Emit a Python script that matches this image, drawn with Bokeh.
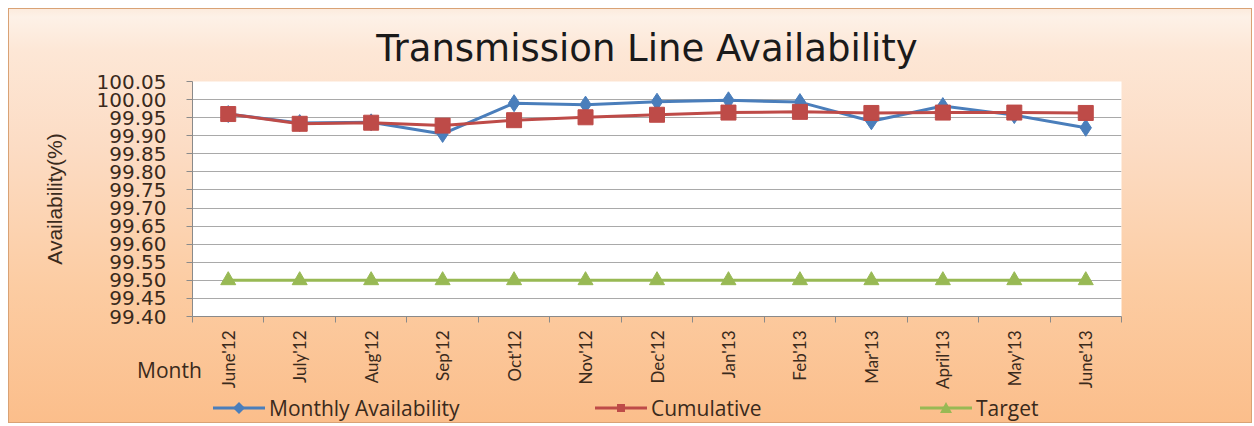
import math
from bokeh.plotting import figure
from bokeh.models import (FixedTicker, NumeralTickFormatter, Range1d, ColumnDataSource, Div)
from bokeh.layouts import column
from bokeh.embed import file_html
from bokeh.resources import INLINE

# ---------------- data ----------------
months = ["June'12", "July'12", "Aug'12", "Sep'12", "Oct'12", "Nov'12", "Dec'12",
          "Jan'13", "Feb'13", "Mar'13", "April'13", "May'13", "June'13"]
monthly = [99.960, 99.935, 99.937, 99.905, 99.990, 99.986, 99.994,
           99.998, 99.993, 99.940, 99.982, 99.957, 99.922]
cumulative = [99.960, 99.933, 99.936, 99.928, 99.943, 99.951, 99.958,
              99.964, 99.966, 99.963, 99.964, 99.964, 99.963]
target = [99.50, 99.50, 99.50, 99.50, 99.50, 99.50, 99.50,
          99.50, 99.50, 99.50, 99.50, 99.50, 99.50]
y_ticks = [99.40, 99.45, 99.50, 99.55, 99.60, 99.65, 99.70,
           99.75, 99.80, 99.85, 99.90, 99.95, 100.00, 100.05]
series_names = ["Monthly Availability", "Cumulative", "Target"]
title_text = "Transmission Line Availability"
y_title = "Availability(%)"
x_title = "Month"

# ---------------- styles ----------------
BLUE = "#4A7EBB"
RED = "#BE4B48"
GREEN = "#98B954"
TXT = "#3A2A1C"

xs = list(range(len(months)))
src = ColumnDataSource(dict(x=xs, monthly=monthly, cumulative=cumulative, target=target))

p = figure(width=1252, height=423,
           x_range=Range1d(-0.5, len(months) - 0.5),
           y_range=Range1d(y_ticks[0], y_ticks[-1]),
           output_backend="svg", toolbar_location=None,
           min_border_left=192, min_border_right=131,
           min_border_top=81, min_border_bottom=107)

p.styles = {
    "background": "linear-gradient(180deg, #fbe4d2 0%, #fdf1e7 4%, #fde7d6 12%, "
                  "#fcdcc4 35%, #fccca2 68%, #fbbe8b 100%)",
    "box-shadow": "inset 8px 8px 0 0 #ffffff, inset 9px 9px 0 0 #d9a275, "
                  "inset -1px -1px 0 0 #d9a275",
}
p.border_fill_alpha = 0
p.background_fill_color = "white"
p.outline_line_color = None

# y axis
p.yaxis.ticker = FixedTicker(ticks=y_ticks)
p.yaxis.formatter = NumeralTickFormatter(format="0.00")
p.yaxis.major_label_text_font = "DejaVu Sans"
p.yaxis.major_label_text_font_size = "20px"
p.yaxis.major_label_text_color = TXT
p.yaxis.major_label_standoff = 20
p.yaxis.major_tick_out = 6
p.yaxis.major_tick_in = 0
p.yaxis.minor_tick_out = 0
p.yaxis.minor_tick_in = 0
p.yaxis.major_tick_line_color = "#8a8a8a"
p.yaxis.axis_line_color = "#8a8a8a"
p.yaxis.axis_label = y_title
p.yaxis.axis_label_text_font = "Liberation Sans"
p.yaxis.axis_label_text_font_size = "21px"
p.yaxis.axis_label_text_font_style = "normal"
p.yaxis.axis_label_text_color = TXT
p.yaxis.axis_label_standoff = 28

# x axis
p.xaxis.ticker = FixedTicker(ticks=xs, minor_ticks=[i - 0.5 for i in range(len(months) + 1)])
p.xaxis.major_label_overrides = {i: m for i, m in enumerate(months)}
p.xaxis.major_label_orientation = math.pi / 2
p.xaxis.major_label_text_font = "Lato"
p.xaxis.major_label_text_font_size = "17px"
p.xaxis.major_label_text_color = TXT
p.xaxis.major_label_standoff = 8
p.xaxis.major_tick_out = 0
p.xaxis.major_tick_in = 0
p.xaxis.minor_tick_out = 6
p.xaxis.minor_tick_in = 0
p.xaxis.minor_tick_line_color = "#8a8a8a"
p.xaxis.axis_line_color = "#8a8a8a"

# grid
p.xgrid.grid_line_color = None
p.ygrid.ticker = FixedTicker(ticks=y_ticks)
p.ygrid.grid_line_color = "#a9a9a9"
p.ygrid.grid_line_width = 1

# series
p.line("x", "monthly", source=src, line_color=BLUE, line_width=3)
p.scatter("x", "monthly", source=src, marker="diamond", size=17,
          fill_color=BLUE, line_color=BLUE)
p.line("x", "cumulative", source=src, line_color=RED, line_width=3)
p.scatter("x", "cumulative", source=src, marker="square", size=15,
          fill_color=RED, line_color=RED)
p.line("x", "target", source=src, line_color=GREEN, line_width=3)
p.scatter("x", "target", source=src, marker="triangle", size=15,
          fill_color=GREEN, line_color=GREEN)

# ---------------- overlay texts (title, caption, legend) ----------------
def abs_div(html, left, top, size, family="Open Sans", width=None, align="left"):
    st = {"position": "absolute", "left": f"{left}px", "top": f"{top}px",
          "font-family": family, "font-size": f"{size}px", "color": TXT,
          "line-height": f"{int(size * 1.25)}px", "white-space": "nowrap",
          "text-align": align, "z-index": "5"}
    if width:
        st["width"] = f"{width}px"
        return Div(text=html, styles=st, width=width)
    return Div(text=html, styles=st)

title_div = abs_div(title_text, 16, 21, 37, family="DejaVu Sans", width=1252, align="center")
title_div.styles["color"] = "#1a1a1a"

month_div = abs_div(x_title, 132, 352, 21)

icons = [
    f'<polygon points="26,4 32,10 26,16 20,10" fill="{BLUE}"/>',
    f'<rect x="22" y="6" width="8" height="8" fill="{RED}"/>',
    f'<polygon points="26,4 32,15 20,15" fill="{GREEN}"/>',
]
line_colors = [BLUE, RED, GREEN]
legend_left = [208, 590, 915]
legend_divs = []
for name, icon, col, lx in zip(series_names, icons, line_colors, legend_left):
    html = (f'<div style="display:flex;align-items:center;gap:4px">'
            f'<svg width="52" height="20" style="display:block">'
            f'<line x1="0" y1="10" x2="52" y2="10" stroke="{col}" stroke-width="3"/>'
            f'{icon}</svg><span>{name}</span></div>')
    legend_divs.append(abs_div(html, lx, 390, 21))

layout = column(p, title_div, month_div, *legend_divs)
open("out.html", "w").write(file_html(layout, INLINE))
